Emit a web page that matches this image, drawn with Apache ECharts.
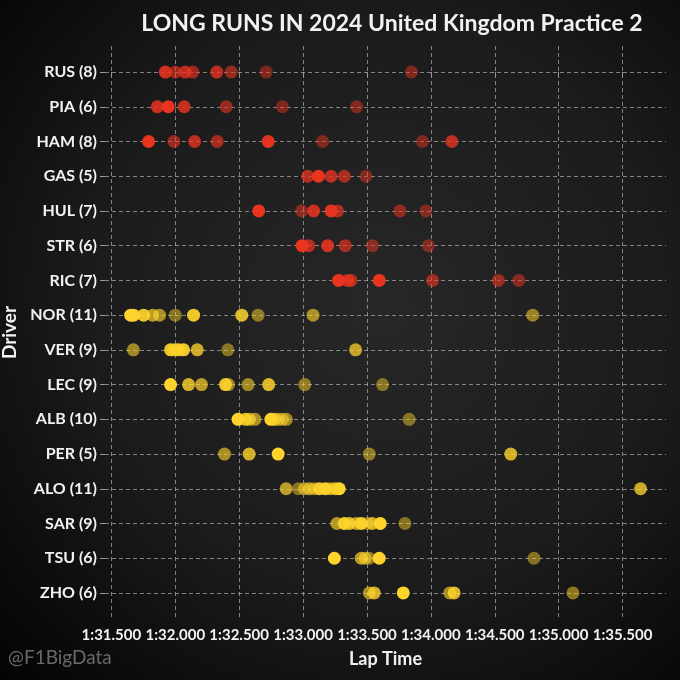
<!DOCTYPE html>
<html>
<head>
<meta charset="utf-8">
<script src="https://cdn.jsdelivr.net/npm/echarts@6/dist/echarts.min.js"></script>
<style>
html,body{margin:0;padding:0;background:#000;}
#c{width:680px;height:680px;}
</style>
</head>
<body>
<div id="c"></div>
<script>
// ---- data (lap times in seconds) ----
const drivers = ['RUS','PIA','HAM','GAS','HUL','STR','RIC','NOR','VER','LEC','ALB','PER','ALO','SAR','TSU','ZHO'];
const redDrivers = ['RUS','PIA','HAM','GAS','HUL','STR','RIC'];
const yellowDrivers = ['NOR','VER','LEC','ALB','PER','ALO','SAR','TSU','ZHO'];
const xTicks = [91.5, 92.0, 92.5, 93.0, 93.5, 94.0, 94.5, 95.0, 95.5];

const lapsRUS = [91.922, 92.000, 92.078, 92.137, 92.325, 92.438, 92.711, 93.848];
const toneRUS = [0.85, 0.5, 0.7, 0.5, 0.7, 0.45, 0.3, 0.3];
const lapsPIA = [91.859, 91.945, 92.070, 92.398, 92.838, 93.419];
const tonePIA = [0.8, 1.0, 0.75, 0.45, 0.3, 0.3];
const lapsHAM = [91.791, 91.989, 92.151, 92.328, 92.727, 93.153, 93.934, 94.164];
const toneHAM = [1.0, 0.45, 0.7, 0.55, 0.95, 0.3, 0.3, 0.7];
const lapsGAS = [93.036, 93.120, 93.219, 93.323, 93.492];
const toneGAS = [0.65, 1.0, 0.7, 0.55, 0.3];
const lapsHUL = [92.653, 92.989, 93.083, 93.219, 93.270, 93.758, 93.961];
const toneHUL = [1.0, 0.35, 0.8, 0.95, 0.6, 0.4, 0.3];
const lapsSTR = [92.992, 93.044, 93.192, 93.330, 93.544, 93.981];
const toneSTR = [1.0, 0.65, 0.85, 0.55, 0.35, 0.3];
const lapsRIC = [93.278, 93.348, 93.375, 93.596, 94.013, 94.528, 94.688];
const toneRIC = [1.0, 0.7, 0.6, 1.0, 0.5, 0.45, 0.35];

const lapsNOR = [91.651, 91.674, 91.752, 91.823, 91.877, 92.000, 92.143, 92.520, 92.648, 93.078, 94.797];
const toneNOR = [1.0, 0.95, 0.9, 0.6, 0.5, 0.3, 0.9, 0.8, 0.35, 0.5, 0.4];
const lapsVER = [91.672, 91.963, 91.994, 92.018, 92.034, 92.065, 92.172, 92.411, 93.411];
const toneVER = [0.45, 0.9, 0.6, 0.8, 0.35, 0.9, 0.7, 0.3, 0.65];
const lapsLEC = [91.963, 92.104, 92.205, 92.393, 92.416, 92.570, 92.731, 93.013, 93.622];
const toneLEC = [1.0, 0.75, 0.6, 0.9, 0.45, 0.45, 0.8, 0.35, 0.3];
const lapsALB = [92.491, 92.549, 92.580, 92.623, 92.748, 92.776, 92.807, 92.838, 92.869, 93.830];
const toneALB = [1.0, 0.8, 0.6, 0.5, 1.0, 0.7, 0.45, 0.35, 0.45, 0.3];
const lapsPER = [92.385, 92.578, 92.805, 93.518, 94.625];
const tonePER = [0.5, 0.75, 1.0, 0.35, 0.75];
const lapsALO = [92.867, 92.963, 93.010, 93.049, 93.088, 93.127, 93.174, 93.213, 93.252, 93.283, 95.641];
const toneALO = [0.6, 0.3, 0.45, 0.55, 0.45, 0.9, 0.95, 0.6, 0.75, 1.0, 0.7];
const lapsSAR = [93.264, 93.323, 93.362, 93.416, 93.455, 93.502, 93.541, 93.604, 93.797];
const toneSAR = [0.55, 0.95, 0.8, 0.6, 0.95, 0.35, 0.75, 1.0, 0.3];
const lapsTSU = [93.245, 93.455, 93.487, 93.518, 93.596, 94.807];
const toneTSU = [1.0, 0.6, 0.45, 0.35, 1.0, 0.3];
const lapsZHO = [93.518, 93.557, 93.784, 94.148, 94.182, 95.112];
const toneZHO = [0.5, 0.75, 1.0, 0.5, 0.8, 0.35];

const lapsBy = {RUS:lapsRUS,PIA:lapsPIA,HAM:lapsHAM,GAS:lapsGAS,HUL:lapsHUL,STR:lapsSTR,RIC:lapsRIC,
  NOR:lapsNOR,VER:lapsVER,LEC:lapsLEC,ALB:lapsALB,PER:lapsPER,ALO:lapsALO,SAR:lapsSAR,TSU:lapsTSU,ZHO:lapsZHO};
const toneBy = {RUS:toneRUS,PIA:tonePIA,HAM:toneHAM,GAS:toneGAS,HUL:toneHUL,STR:toneSTR,RIC:toneRIC,
  NOR:toneNOR,VER:toneVER,LEC:toneLEC,ALB:toneALB,PER:tonePER,ALO:toneALO,SAR:toneSAR,TSU:toneTSU,ZHO:toneZHO};

// ---- chart ----
const RED = '#ea3420';
const YELLOW = '#fdd32c';
const FONT = 'Lato, "Noto Sans", sans-serif';

function fmtLap(v){
  const m = Math.floor(v/60 + 1e-9);
  const s = v - m*60;
  let ss = s.toFixed(3);
  if (s < 10) ss = '0' + ss;
  return m + ':' + ss;
}

const series = drivers.map((d, i) => ({
  type: 'scatter',
  name: d,
  symbolSize: 13,
  itemStyle: { color: redDrivers.includes(d) ? RED : YELLOW },
  emphasis: { disabled: true },
  data: lapsBy[d].map((t, k) => [t, i, toneBy[d][k]])
}));

const chart = echarts.init(document.getElementById('c'));
chart.setOption({
  animation: false,
  backgroundColor: {
    type: 'radial', x: 0.56, y: 0.45, r: 0.78,
    colorStops: [
      {offset: 0, color: '#272727'},
      {offset: 0.55, color: '#1b1b1b'},
      {offset: 1, color: '#030303'}
    ]
  },
  title: {
    text: 'LONG RUNS IN 2024 United Kingdom Practice 2',
    left: 387, top: 7, textAlign: 'center',
    textStyle: { color: '#f2f2f2', fontFamily: FONT, fontSize: 23, fontWeight: 'bold' }
  },
  graphic: [{
    type: 'text', left: 8, top: 648,
    style: { text: '@F1BigData', fill: '#6a6a6a', font: '19px ' + FONT }
  }],
  grid: { left: 105, right: 14, top: 46, bottom: 61, containLabel: false, outerBoundsMode: 'none' },
  visualMap: {
    show: false, type: 'continuous', dimension: 2, min: 0, max: 1,
    inRange: { opacity: [0.25, 1] }
  },
  xAxis: {
    type: 'value', min: 91.45, max: 95.84,
    name: 'Lap Time', nameLocation: 'middle', nameGap: 31,
    nameTextStyle: { color: '#f2f2f2', fontFamily: FONT, fontSize: 18, fontWeight: 'bold' },
    axisLine: { show: false },
    axisTick: { show: true, length: 5, lineStyle: { color: '#9a9a9a' }, customValues: xTicks },
    axisLabel: { customValues: xTicks, formatter: fmtLap, color: '#f2f2f2', fontFamily: FONT, fontSize: 15, fontWeight: 'bold', margin: 9 },
    splitLine: { show: true, lineStyle: { color: 'rgba(200,200,200,0.6)', type: [4, 3], width: 1 } }
  },
  yAxis: {
    type: 'value', inverse: true, min: -0.75, max: 15.75,
    name: 'Driver', nameLocation: 'middle', nameGap: 78, nameRotate: 90,
    nameTextStyle: { color: '#f2f2f2', fontFamily: FONT, fontSize: 19, fontWeight: 'bold' },
    axisLine: { show: false },
    axisTick: { show: true, length: 5, lineStyle: { color: '#9a9a9a' }, customValues: drivers.map((d, i) => i) },
    axisLabel: {
      customValues: drivers.map((d, i) => i),
      formatter: v => { const d = drivers[Math.round(v)]; return d ? d + ' (' + lapsBy[d].length + ')' : ''; },
      color: '#f2f2f2', fontFamily: FONT, fontSize: 16, fontWeight: 'bold', margin: 8
    },
    splitLine: { show: true, lineStyle: { color: 'rgba(200,200,200,0.6)', type: [4, 3], width: 1 } }
  },
  series: series
});
</script>
</body>
</html>
